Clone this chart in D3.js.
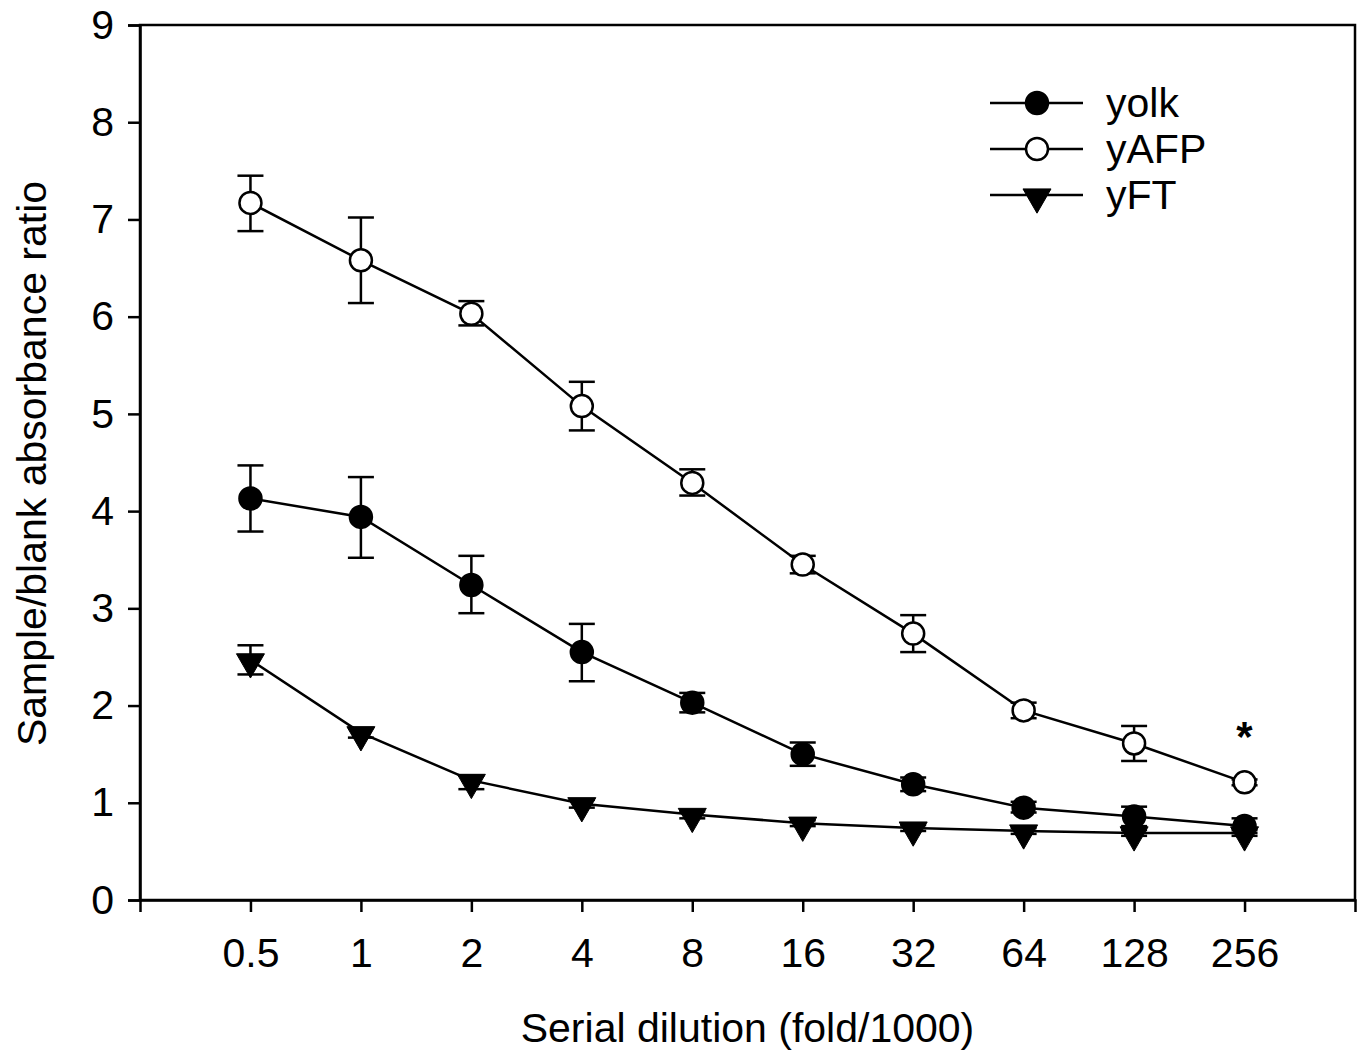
<!DOCTYPE html>
<html>
<head>
<meta charset="utf-8">
<script src="https://cdn.jsdelivr.net/npm/d3@7"></script>
<style>
  body { margin: 0; background: #fff; }
  text { font-family: "Liberation Sans", Arial, sans-serif; }
</style>
</head>
<body>
<div id="chart"></div>
<script>
// dilution categories
var dilutions = ["0.5", "1", "2", "4", "8", "16", "32", "64", "128", "256"];

// means and error bars (upper / lower ends)
var yolk = [4.13, 3.94, 3.24, 2.55, 2.03, 1.50, 1.19, 0.95, 0.86, 0.76];
var yolkHi = [4.47, 4.35, 3.54, 2.84, 2.13, 1.62, 1.26, 1.01, 0.96, 0.84];
var yolkLo = [3.79, 3.52, 2.95, 2.25, 1.93, 1.38, 1.12, 0.90, 0.76, 0.69];

var yAFP = [7.17, 6.58, 6.03, 5.08, 4.29, 3.45, 2.74, 1.95, 1.61, 1.21];
var yAFPHi = [7.45, 7.02, 6.16, 5.33, 4.43, 3.54, 2.93, 2.03, 1.79, 1.24];
var yAFPLo = [6.88, 6.14, 5.91, 4.83, 4.16, 3.36, 2.55, 1.87, 1.43, 1.18];

var yFT = [2.47, 1.72, 1.23, 0.99, 0.88, 0.79, 0.74, 0.71, 0.69, 0.69];
var yFTHi = [2.62, 1.77, 1.28, 1.03, 0.91, 0.82, 0.77, 0.74, 0.72, 0.72];
var yFTLo = [2.32, 1.67, 1.14, 0.95, 0.84, 0.76, 0.71, 0.68, 0.66, 0.66];

var yTicks = [0, 1, 2, 3, 4, 5, 6, 7, 8, 9];

var series = [
  {name: "yolk", mean: yolk, hi: yolkHi, lo: yolkLo, shape: "circle", fill: "#000"},
  {name: "yAFP", mean: yAFP, hi: yAFPHi, lo: yAFPLo, shape: "circle", fill: "#fff"},
  {name: "yFT", mean: yFT, hi: yFTHi, lo: yFTLo, shape: "triangle", fill: "#000"}
];

// set the dimensions and margins of the graph
var margin = {top: 25, right: 4, bottom: 153, left: 140},
    width = 1359 - margin.left - margin.right,
    height = 1053 - margin.top - margin.bottom;

var svg = d3.select("#chart")
  .append("svg")
    .attr("width", 1359)
    .attr("height", 1053)
  .append("g")
    .attr("transform", "translate(" + margin.left + "," + margin.top + ")");

// X scale: one slot on each side of the categories
var xi = d3.scaleLinear()
  .domain([-1, dilutions.length])
  .range([0, width]);
function x(i) { return xi(i); }

var y = d3.scaleLinear()
  .domain([0, 9])
  .range([height, 0]);

// frame
svg.append("rect")
  .attr("width", width)
  .attr("height", height)
  .attr("fill", "none")
  .attr("stroke", "#000")
  .attr("stroke-width", 2.5);

// Y axis
var yAxis = svg.append("g")
  .call(d3.axisLeft(y).tickValues(yTicks).tickSize(12).tickPadding(14).tickFormat(d3.format("d")));
yAxis.select(".domain").attr("stroke-width", 2.5);
yAxis.selectAll(".tick line").attr("stroke-width", 2.5);
yAxis.selectAll("text").style("font-size", "41px").attr("fill", "#000");

// X axis
var xAxis = svg.append("g")
  .attr("transform", "translate(0," + height + ")")
  .call(d3.axisBottom(xi).tickValues(d3.range(dilutions.length)).tickSize(12).tickPadding(26)
    .tickFormat(function (i) { return dilutions[i]; }));
xAxis.select(".domain").attr("stroke-width", 2.5);
xAxis.selectAll(".tick line").attr("stroke-width", 2.5);
xAxis.selectAll("text").style("font-size", "41px").attr("fill", "#000");

// axis titles
svg.append("text")
  .attr("x", width / 2)
  .attr("y", height + 142)
  .attr("text-anchor", "middle")
  .style("font-size", "41px")
  .text("Serial dilution (fold/1000)");

svg.append("text")
  .attr("transform", "translate(" + (-94) + "," + (height / 2 + 1) + ") rotate(-90)")
  .attr("text-anchor", "middle")
  .style("font-size", "41px")
  .text("Sample/blank absorbance ratio");

var line = d3.line()
  .x(function (d, i) { return x(i); })
  .y(function (d) { return y(d); });

var tri = d3.symbol().type(d3.symbolTriangle).size(340);
var capW = 13;

function drawMarker(g, s, cx, cy) {
  if (s.shape === "circle") {
    g.append("circle")
      .attr("cx", cx).attr("cy", cy).attr("r", 11)
      .attr("fill", s.fill).attr("stroke", "#000").attr("stroke-width", 2.5);
  } else {
    g.append("path")
      .attr("d", tri)
      .attr("transform", "translate(" + cx + "," + (cy + 2) + ") rotate(180)")
      .attr("fill", s.fill).attr("stroke", "#000").attr("stroke-width", 1);
  }
}

series.forEach(function (s) {
  var g = svg.append("g");
  // error bars
  s.mean.forEach(function (m, i) {
    var cx = x(i);
    g.append("line").attr("x1", cx).attr("x2", cx).attr("y1", y(s.hi[i])).attr("y2", y(s.lo[i]))
      .attr("stroke", "#000").attr("stroke-width", 2.5);
    [s.hi[i], s.lo[i]].forEach(function (v) {
      g.append("line").attr("x1", cx - capW).attr("x2", cx + capW).attr("y1", y(v)).attr("y2", y(v))
        .attr("stroke", "#000").attr("stroke-width", 2.5);
    });
  });
  g.append("path")
    .datum(s.mean)
    .attr("d", line)
    .attr("fill", "none")
    .attr("stroke", "#000")
    .attr("stroke-width", 2.5);
  s.mean.forEach(function (m, i) { drawMarker(g, s, x(i), y(m)); });
});

// asterisk above the last yAFP point
svg.append("text")
  .attr("x", x(9))
  .attr("y", y(yAFPHi[9]) - 28)
  .attr("text-anchor", "middle")
  .style("font-size", "42px")
  .style("font-weight", "bold")
  .text("*");

// legend
var legend = svg.append("g").attr("transform", "translate(" + (990 - margin.left) + "," + (103 - margin.top) + ")");
series.forEach(function (s, k) {
  var row = legend.append("g").attr("transform", "translate(0," + (k * 46) + ")");
  row.append("line").attr("x1", 0).attr("x2", 93).attr("y1", 0).attr("y2", 0)
    .attr("stroke", "#000").attr("stroke-width", 2.5);
  drawMarker(row, s, 47, 0);
  row.append("text")
    .attr("x", 116).attr("y", 14)
    .style("font-size", "41px")
    .text(s.name);
});
</script>
</body>
</html>
